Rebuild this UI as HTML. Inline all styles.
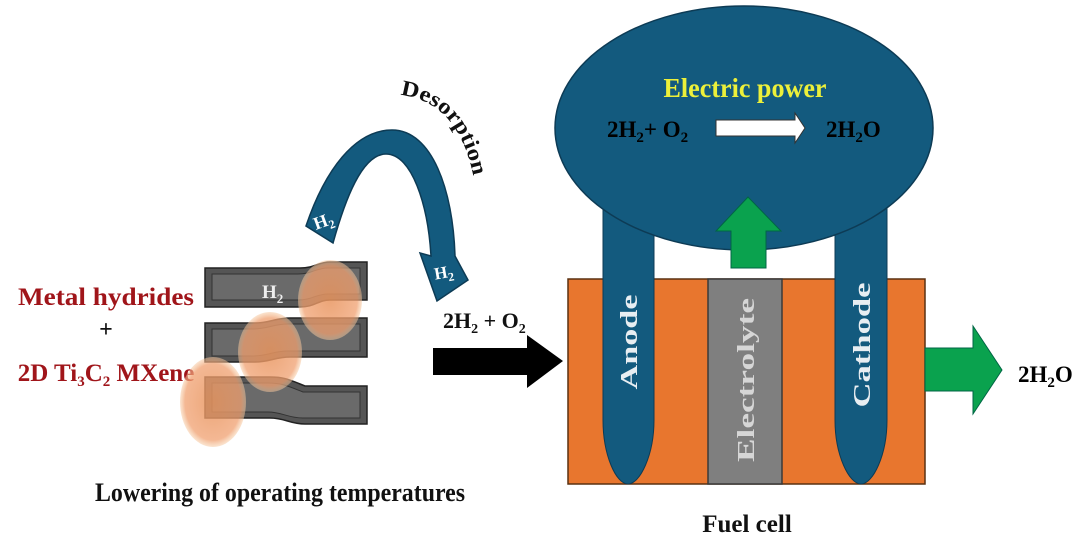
<!DOCTYPE html>
<html><head><meta charset="utf-8"><style>
html,body{margin:0;padding:0;background:#fff;}
svg{display:block;font-family:"Liberation Serif",serif;font-weight:bold;}
</style></head><body>
<svg width="1080" height="541" viewBox="0 0 1080 541" xmlns="http://www.w3.org/2000/svg">
<defs>
<radialGradient id="og" cx="0.5" cy="0.5" r="0.5">
<stop offset="0" stop-color="#e8955f" stop-opacity="0.85"/>
<stop offset="0.85" stop-color="#f0a070" stop-opacity="0.75"/>
<stop offset="1" stop-color="#f6c9a0" stop-opacity="0.5"/>
</radialGradient>
</defs>

<!-- Left texts -->
<text x="106" y="305" font-size="25" fill="#a0151a" text-anchor="middle" textLength="176" lengthAdjust="spacingAndGlyphs">Metal hydrides</text>
<text x="106" y="337" font-size="24" fill="#111" text-anchor="middle">+</text>
<text x="106" y="381" font-size="25" fill="#a0151a" text-anchor="middle">2D Ti<tspan font-size="15" dy="5">3</tspan><tspan dy="-5">C</tspan><tspan font-size="15" dy="5">2</tspan><tspan dy="-5"> MXene</tspan></text>
<text x="280" y="501" font-size="26" fill="#111" text-anchor="middle" textLength="370" lengthAdjust="spacingAndGlyphs">Lowering of operating temperatures</text>

<!-- Sheets -->
<g stroke="#222" stroke-width="1.5">
<path d="M205,268 L300,268 C315,268 318,262 330,262 L367,262 L367,300 L330,300 C318,300 315,307 300,307 L205,307 Z" fill="#555"/>
<path d="M212,274 L298,274 C312,274 316,268 328,268 L360,268 L360,294 L328,294 C316,294 312,300 298,300 L212,300 Z" fill="#6a6a6a" stroke="#333" stroke-width="1"/>
<path d="M205,323 L255,323 C270,323 275,318 290,318 L367,318 L367,357 L290,357 C275,357 270,362 255,362 L205,362 Z" fill="#555"/>
<path d="M212,329 L253,329 C268,329 273,324 288,324 L360,324 L360,351 L288,351 C273,351 268,356 253,356 L212,356 Z" fill="#6a6a6a" stroke="#333" stroke-width="1"/>
<path d="M205,377 L270,377 C285,377 290,380 305,386 L367,386 L367,424 L305,424 C290,424 285,418 270,418 L205,418 Z" fill="#555"/>
<path d="M212,383 L268,383 C282,383 288,386 303,392 L360,392 L360,418 L303,418 C288,418 282,412 268,412 L212,412 Z" fill="#6a6a6a" stroke="#333" stroke-width="1"/>
</g>
<text x="262" y="298" font-size="19" fill="#eee">H<tspan font-size="13" dy="5">2</tspan></text>
<ellipse cx="330" cy="300" rx="32" ry="40" fill="url(#og)"/>
<ellipse cx="270" cy="352" rx="32" ry="40" fill="url(#og)"/>
<ellipse cx="213" cy="402" rx="33" ry="45" fill="url(#og)"/>

<!-- Desorption arrow -->
<path d="M306,226 C325,170 355,130 392,130 C432,130 453,190 455,256 L468,280 L437,301 L420,253 L431,256 C428,205 412,154 386,154 C362,154 345,200 333,243 Z" fill="#135a7e" stroke="#0d3b55" stroke-width="1.5"/>
<text transform="translate(316,230) rotate(-20)" font-size="18" fill="#fff">H<tspan font-size="12" dy="4">2</tspan></text>
<text x="434" y="278" font-size="17" fill="#fff" transform="rotate(-10 444 272)">H<tspan font-size="12" dy="4">2</tspan></text>
<path id="dp" d="M400,95 C445,100 472,135 478,210" fill="none"/>
<text font-size="22" fill="#111"><textPath href="#dp" textLength="118" lengthAdjust="spacingAndGlyphs">Desorption</textPath></text>

<!-- Black arrow -->
<text x="443" y="328" font-size="22" fill="#111">2H<tspan font-size="14" dy="5">2</tspan><tspan dy="-5"> + O</tspan><tspan font-size="14" dy="5">2</tspan></text>
<path d="M433,348 L527,348 L527,335 L563,361 L527,388 L527,375 L433,375 Z" fill="#000"/>

<!-- Fuel cell -->
<rect x="568" y="279" width="357" height="205" fill="#e8762e" stroke="#5a3010" stroke-width="1.5"/>
<rect x="708" y="279" width="74" height="205" fill="#7f7f7f" stroke="#3a3a3a" stroke-width="1.5"/>
<path d="M603,200 L654,200 L654,420 C654,455 640,484 628,484 C616,484 603,455 603,420 Z" fill="#135a7e" stroke="#0d3b55" stroke-width="1"/>
<path d="M835,200 L887,200 L887,420 C887,455 873,484 861,484 C849,484 835,455 835,420 Z" fill="#135a7e" stroke="#0d3b55" stroke-width="1"/>
<ellipse cx="744" cy="128" rx="189" ry="122" fill="#135a7e" stroke="#0d3b55" stroke-width="1.5"/>
<path d="M731,268 L766,268 L766,231 L781,231 L748,197 L716,231 L731,231 Z" fill="#0aa24e" stroke="#064" stroke-width="1"/>
<path d="M925,348 L973,348 L973,326 L1002,370 L973,414 L973,391 L925,391 Z" fill="#0aa24e" stroke="#064" stroke-width="1"/>

<text x="745" y="97" font-size="27" fill="#ecf03a" text-anchor="middle" textLength="163" lengthAdjust="spacingAndGlyphs">Electric power</text>
<text x="607" y="137" font-size="23" fill="#000">2H<tspan font-size="15" dy="5">2</tspan><tspan dy="-5">+ O</tspan><tspan font-size="15" dy="5">2</tspan></text>
<path d="M716,120 L795,120 L795,113 L805,128 L795,143 L795,136 L716,136 Z" fill="#fff" stroke="#333" stroke-width="1"/>
<text x="826" y="137" font-size="23" fill="#000">2H<tspan font-size="15" dy="5">2</tspan><tspan dy="-5">O</tspan></text>

<text transform="translate(637,342) rotate(-90)" font-size="24" fill="#e8eef2" text-anchor="middle" textLength="95" lengthAdjust="spacingAndGlyphs">Anode</text>
<text transform="translate(754,380) rotate(-90)" font-size="24" fill="#d6d6d6" text-anchor="middle" textLength="164" lengthAdjust="spacingAndGlyphs">Electrolyte</text>
<text transform="translate(870,345) rotate(-90)" font-size="24" fill="#e8eef2" text-anchor="middle" textLength="125" lengthAdjust="spacingAndGlyphs">Cathode</text>

<text x="747" y="532" font-size="25" fill="#111" text-anchor="middle">Fuel cell</text>
<text x="1018" y="382" font-size="23" fill="#000">2H<tspan font-size="15" dy="5">2</tspan><tspan dy="-5">O</tspan></text>
</svg>
</body></html>
